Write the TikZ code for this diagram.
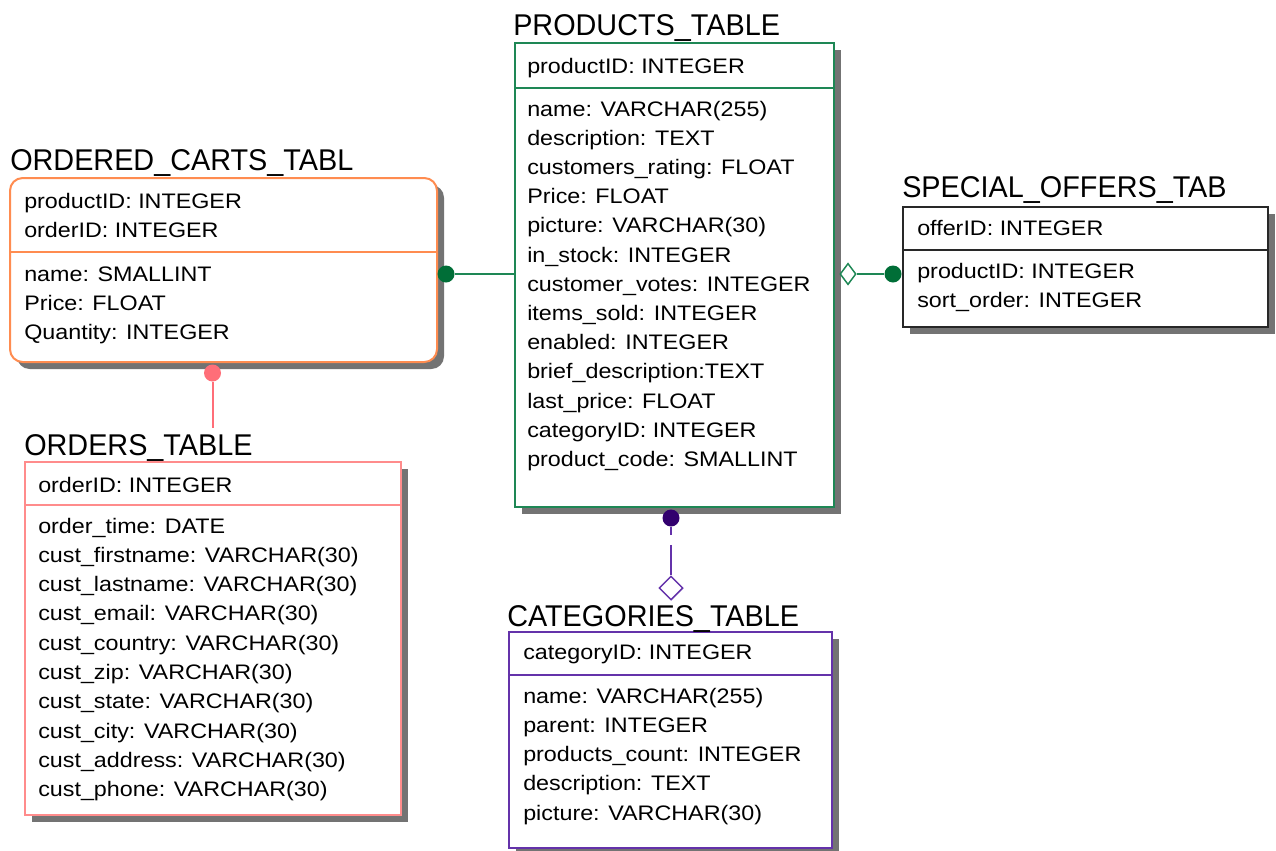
\documentclass[tikz,border=0pt]{standalone}
\usepackage{fontspec}
\setmainfont{Liberation Sans}
\newfontfamily\rowfont[FakeStretch=1.11]{Liberation Sans}
\newfontfamily\headfont[FakeStretch=0.96]{Liberation Sans}
\usetikzlibrary{fit,shapes.geometric}

\definecolor{prodgreen}{RGB}{30,135,85}
\definecolor{linkgreen}{RGB}{0,110,55}
\definecolor{cartorange}{RGB}{255,140,80}
\definecolor{ordsalmon}{RGB}{255,140,140}
\definecolor{ordlink}{RGB}{255,110,120}
\definecolor{catpurple}{RGB}{100,50,170}
\definecolor{catlink}{RGB}{50,0,110}
\definecolor{offgray}{RGB}{40,40,40}

% entity box: name, colour, x1, y1, x2, y2, y of key separator, extra box options
\newcommand\erbox[8]{%
  \fill[shade,#8] (#3+7,#4+7) rectangle (#5+7,#6+7);
  \node[tbl, draw=#2, fit={(#3,#4)(#5,#6)}, #8] (#1) {};
  \draw[sepline, draw=#2] (#3,#7) -- (#5,#7);
}

\begin{document}
\begin{tikzpicture}[x=0.75pt,y=-0.75pt,
  tbl/.style={inner sep=0pt, line width=1.5pt, fill=white},
  sepline/.style={line width=1.5pt},
  shade/.style={fill=black!55},
  row/.style={anchor=base west, inner sep=0pt, font=\rowfont\fontsize{15.75pt}{18pt}\selectfont},
  head/.style={anchor=base west, inner sep=0pt, font=\headfont\fontsize{22.5pt}{26pt}\selectfont},
  dot/.style={circle, inner sep=0pt, minimum size=12.75pt},
  hollow/.style={diamond, draw, fill=white, inner sep=0pt, line width=1.1pt},
  link/.style={line width=1.5pt}]
\useasboundingbox (0,0) rectangle (1276,850);

% ---------- PRODUCTS_TABLE ----------
\erbox{products}{prodgreen}{515}{43}{834}{507}{88}{}
\node[head] (productsT) at (513,35) {PRODUCTS\_TABLE};
\node[row] (p0) at (527,73) {productID: INTEGER};
\foreach \t [count=\i from 0] in {name: VARCHAR(255),description: TEXT,customers\_rating: FLOAT,Price: FLOAT,picture: VARCHAR(30),in\_stock: INTEGER,customer\_votes: INTEGER,items\_sold: INTEGER,enabled: INTEGER,brief\_description:TEXT,last\_price: FLOAT,categoryID: INTEGER,product\_code: SMALLINT}
  \node[row] (p\i) at (527,116+29.2*\i) {\t};

% ---------- ORDERED_CARTS_TABL ----------
\erbox{carts}{cartorange}{10}{178}{437}{362}{252}{rounded corners=9.5pt}
\node[head] (cartsT) at (10,170) {ORDERED\_CARTS\_TABL};
\node[row] (c0) at (24,208) {productID: INTEGER};
\node[row] (c1) at (24,237) {orderID: INTEGER};
\node[row] (c2) at (24,281) {name: SMALLINT};
\node[row] (c3) at (24,310) {Price: FLOAT};
\node[row] (c4) at (24,339) {Quantity: INTEGER};

% ---------- ORDERS_TABLE ----------
\erbox{orders}{ordsalmon}{25}{462}{401}{815}{505}{}
\node[head] (ordersT) at (24,455) {ORDERS\_TABLE};
\node[row] (o0) at (38,492) {orderID: INTEGER};
\foreach \t [count=\i from 0] in {order\_time: DATE,cust\_firstname: VARCHAR(30),cust\_lastname: VARCHAR(30),cust\_email: VARCHAR(30),cust\_country: VARCHAR(30),cust\_zip: VARCHAR(30),cust\_state: VARCHAR(30),cust\_city: VARCHAR(30),cust\_address: VARCHAR(30),cust\_phone: VARCHAR(30)}
  \node[row] (o\i) at (38,533+29.3*\i) {\t};

% ---------- SPECIAL_OFFERS_TAB ----------
\erbox{offers}{offgray}{903}{207}{1268}{327}{250}{}
\node[head] (offersT) at (902,197) {SPECIAL\_OFFERS\_TAB};
\node[row] (s0) at (917,235) {offerID: INTEGER};
\node[row] (s1) at (917,278) {productID: INTEGER};
\node[row] (s2) at (917,307) {sort\_order: INTEGER};

% ---------- CATEGORIES_TABLE ----------
\erbox{categories}{catpurple}{509}{632}{832}{848}{675}{}
\node[head] (categoriesT) at (507,626) {CATEGORIES\_TABLE};
\node[row] (k0) at (523,659) {categoryID: INTEGER};
\foreach \t [count=\i from 0] in {name: VARCHAR(255),parent: INTEGER,products\_count: INTEGER,description: TEXT,picture: VARCHAR(30)}
  \node[row] (k\i) at (523,703+29.3*\i) {\t};

% ---------- relationships ----------
% carts -- products
\node[dot, fill=linkgreen] (cpdot) at (446,274) {};
\draw[link, prodgreen] (cpdot) -- (products.west |- cpdot);
% products -- special offers
\node[hollow, draw=prodgreen, minimum width=12pt, minimum height=16pt] (psdia) at (848,274) {};
\node[dot, fill=linkgreen] (psdot) at (893,274) {};
\draw[link, prodgreen] (psdia.east) -- (psdot);
% products -- categories
\node[dot, fill=catlink] (pcdot) at (671,518) {};
\node[hollow, draw=catpurple, minimum width=18pt, minimum height=18pt] (pcdia) at (671,588) {};
\draw[link, catpurple, dash pattern=on 6pt off 7.5pt on 60pt off 0pt] (pcdot.south) -- (pcdia.north);
% carts -- orders
\node[dot, fill=ordlink] (codot) at (212.5,373) {};
\coordinate (coend) at (212.5,428);
\draw[link, ordlink] (codot) -- (coend);
\end{tikzpicture}
\end{document}
